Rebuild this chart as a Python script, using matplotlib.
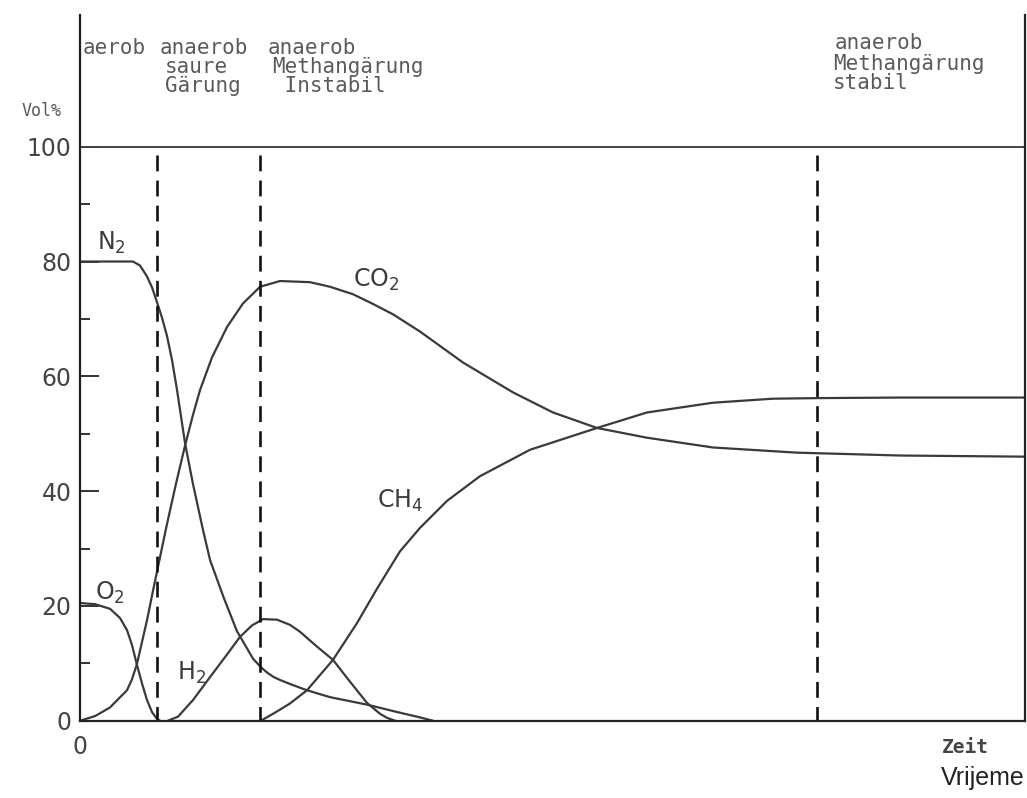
import matplotlib
matplotlib.use("Agg")
import matplotlib.pyplot as plt

W, H = 1027, 798

# time in arbitrary units (0..100), gas content in Vol%
o2_t = [0, 1.59, 3.17, 4.23, 4.97, 5.50, 6.03, 6.56, 7.09, 7.62, 8.15, 8.47]
o2_v = [20.5, 20.3, 19.5, 17.9, 15.8, 13.2, 9.7, 6.5, 3.6, 1.5, 0.3, 0]

n2_t = [0, 5.61, 6.35, 7.09, 7.62, 8.15, 8.68, 9.21, 9.74, 10.26, 11.11, 11.96,
        13.02, 13.76, 15.24, 16.61, 18.31, 19.15, 19.79, 20.50, 21.16, 22.22,
        24.02, 26.46, 30.37, 33.33, 35.66, 37.35]
n2_v = [80, 80, 79.3, 77.4, 75.5, 72.9, 70.2, 67, 62.8, 57.7, 48.4, 41.2,
        33.2, 28, 21.3, 15.6, 10.8, 9.3, 8.4, 7.6, 7.1, 6.4,
        5.3, 4.1, 2.8, 1.6, 0.7, 0]

co2_t = [0, 1.59, 3.17, 4.97, 5.50, 6.03, 7.09, 7.72, 8.47, 9.21, 10.16, 11.11,
         11.96, 12.70, 13.97, 15.56, 17.25, 19.05, 21.16, 24.34, 26.46, 28.89,
         31.01, 33.12, 35.98, 40.53, 45.82, 50.05, 54.71, 60.0, 66.98, 75.87,
         86.77, 100]
co2_v = [0, 0.8, 2.3, 5.3, 7.2, 9.9, 17.5, 22.6, 28.5, 34.3, 41.3, 47.9,
         53.3, 57.6, 63.3, 68.6, 72.7, 75.6, 76.6, 76.4, 75.6, 74.3,
         72.6, 70.8, 67.8, 62.4, 57.2, 53.7, 51, 49.3, 47.6, 46.7,
         46.2, 46.0]

h2_t = [9.31, 10.37, 11.96, 13.76, 15.45, 16.93, 18.20, 19.37, 20.85, 22.22,
        23.28, 24.87, 26.77, 28.57, 30.37, 31.75, 32.49, 33.33]
h2_v = [0, 0.7, 3.6, 7.6, 11.3, 14.6, 16.6, 17.7, 17.6, 16.7,
        15.5, 13.2, 10.6, 6.8, 3.1, 1.2, 0.5, 0]

ch4_t = [19.15, 20.63, 22.22, 24.02, 26.77, 29.31, 31.43, 33.86, 35.98, 38.84,
         42.33, 47.62, 54.71, 60.0, 66.98, 73.33, 77.99, 86.77, 100]
ch4_v = [0, 1.4, 3.0, 5.3, 10.6, 17.0, 23.0, 29.5, 33.6, 38.3,
         42.6, 47.2, 51, 53.7, 55.4, 56.1, 56.2, 56.3, 56.3]

phase_bounds = [8.2, 19.1, 78.0]

y_ticks = [0, 20, 40, 60, 80, 100]
y_minor = [10, 30, 50, 70, 90]

plt.rcParams["mathtext.default"] = "regular"

fig = plt.figure(figsize=(W / 100, H / 100), dpi=100)
ax = fig.add_axes([80 / W, (H - 720.7) / H, 945 / W, 706 / H])
ax.set_xlim(0, 100)
ax.set_ylim(0, 123)

curve = dict(color="#3a3a3a", lw=1.6, clip_on=False,
             solid_capstyle="round", solid_joinstyle="round")
for t, v in [(o2_t, o2_v), (n2_t, n2_v), (co2_t, co2_v), (h2_t, h2_v), (ch4_t, ch4_v)]:
    ax.plot(t, v, **curve)

ax.axhline(100, color="#444444", lw=1.4)
for xb in phase_bounds:
    ax.plot([xb, xb], [98.5, 0], color="#111111", lw=1.9,
            linestyle=(0, (6, 3.5)))

for s in ["left", "right", "bottom"]:
    ax.spines[s].set_linewidth(1.6)
    ax.spines[s].set_color("#222222")
ax.spines["top"].set_visible(False)

ax.set_yticks(y_ticks)
ax.set_yticklabels([str(v) for v in y_ticks])
ax.set_yticks(y_minor, minor=True)
ax.tick_params(axis="y", which="major", direction="in", length=14, width=1.4,
               pad=6, labelsize=17, labelcolor="#444444", color="#333333")
ax.tick_params(axis="y", which="minor", direction="in", length=7, width=1.4,
               color="#333333")
ax.set_xticks([0])
ax.set_xticklabels(["0"])
ax.tick_params(axis="x", length=0, pad=10, labelsize=17, labelcolor="#444444")

# gas labels
lab = dict(fontsize=17, color="#3c3c3c", va="baseline")
ax.text(1.8, 82.0, "N$_2$", **lab)
ax.text(28.9, 75.6, "CO$_2$", **lab)
ax.text(31.4, 37.1, "CH$_4$", **lab)
ax.text(1.6, 21.0, "O$_2$", **lab)
ax.text(10.3, 7.1, "H$_2$", **lab)


def fx(x):
    return x / W


def fy(y):
    return 1 - y / H


# phase descriptions above the chart
mono = dict(family="DejaVu Sans Mono", fontsize=15, color="#5a5a5a",
            va="baseline", linespacing=0.95)
fig.text(fx(83), fy(54), "aerob", **mono)
fig.text(fx(160), fy(54), "anaerob", **mono)
fig.text(fx(165), fy(92), "saure\nGärung", **mono)
fig.text(fx(268), fy(54), "anaerob", **mono)
fig.text(fx(272), fy(92), "Methangärung\n Instabil", **mono)
fig.text(fx(835), fy(49), "anaerob", **mono)
fig.text(fx(833), fy(89), "Methangärung\nstabil", **mono)

fig.text(fx(62), fy(116), "Vol%", family="DejaVu Sans Mono", fontsize=12,
         color="#5a5a5a", ha="right", va="baseline")

fig.text(fx(942), fy(753), "Zeit", family="DejaVu Sans Mono", fontsize=14,
         fontweight="bold", color="#444444", va="baseline")
fig.text(fx(1025), fy(785), "Vrijeme", family="Liberation Sans", fontsize=18,
         color="#222222", ha="right", va="baseline")

fig.savefig("out.png", dpi=100)
